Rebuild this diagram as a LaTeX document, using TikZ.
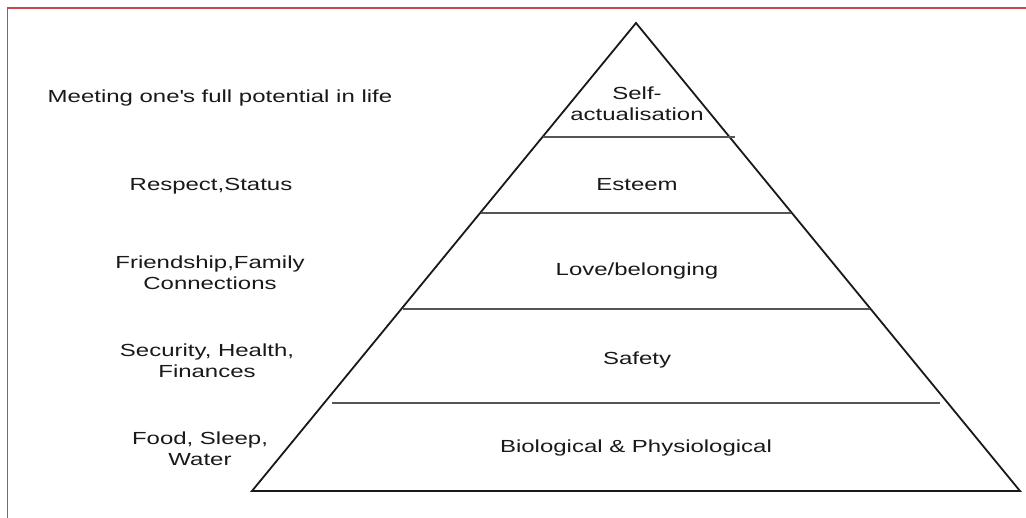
\documentclass[tikz,border=0pt]{standalone}
\usepackage{fontspec}
\setmainfont{Liberation Sans}[FakeStretch=1.37]
\definecolor{frame}{RGB}{200,70,80}
\definecolor{ink}{RGB}{25,25,25}
\definecolor{divider}{RGB}{85,85,85}
\begin{document}
\begin{tikzpicture}[x=1pt,y=-1pt,
  lbl/.style={inner sep=0pt,align=center,text=ink,font=\fontsize{17.5}{21}\selectfont},
  edge/.style={draw=ink,line width=1.8pt,line join=miter},
  divline/.style={draw=divider,line width=2pt}]
\useasboundingbox (0,0) rectangle (1026,518);
\fill[white] (0,0) rectangle (1026,518);
% frame lines
\draw[frame,line width=1.2pt] (7.5,518) -- (7.5,8) -- (1026,8);
% pyramid
\coordinate (apex) at (636,23);
\coordinate (bl) at (252,491);
\coordinate (br) at (1020,491);
\draw[edge] (apex) -- (br) -- (bl) -- cycle;
% dividers
\coordinate (d1l) at (543,137); \coordinate (d1r) at (735,137);
\coordinate (d2l) at (481,213); \coordinate (d2r) at (791,213);
\coordinate (d3l) at (403,309); \coordinate (d3r) at (870,309);
\coordinate (d4l) at (332,403); \coordinate (d4r) at (940,403);
\draw[divline] (d1l) -- (d1r);
\draw[divline] (d2l) -- (d2r);
\draw[divline] (d3l) -- (d3r);
\draw[divline] (d4l) -- (d4r);
% pyramid labels
\node[lbl] (selfact) at (637,104) {Self-\\actualisation};
\node[lbl] (esteem) at (637,185) {Esteem};
\node[lbl] (love) at (637,271) {Love/belonging};
\node[lbl] (safety) at (637,360) {Safety};
\node[lbl] (bio) at (636,448) {Biological \& Physiological};
% left labels
\node[lbl] (meet) at (220,98) {Meeting one\textquotesingle s full potential in life};
\node[lbl] (resp) at (211,186) {Respect,Status};
\node[lbl] (friend) at (210,273) {Friendship,Family\\Connections};
\node[lbl] (secur) at (207,361) {Security, Health,\\Finances};
\node[lbl] (food) at (200,449) {Food, Sleep,\\Water};
\end{tikzpicture}
\end{document}
